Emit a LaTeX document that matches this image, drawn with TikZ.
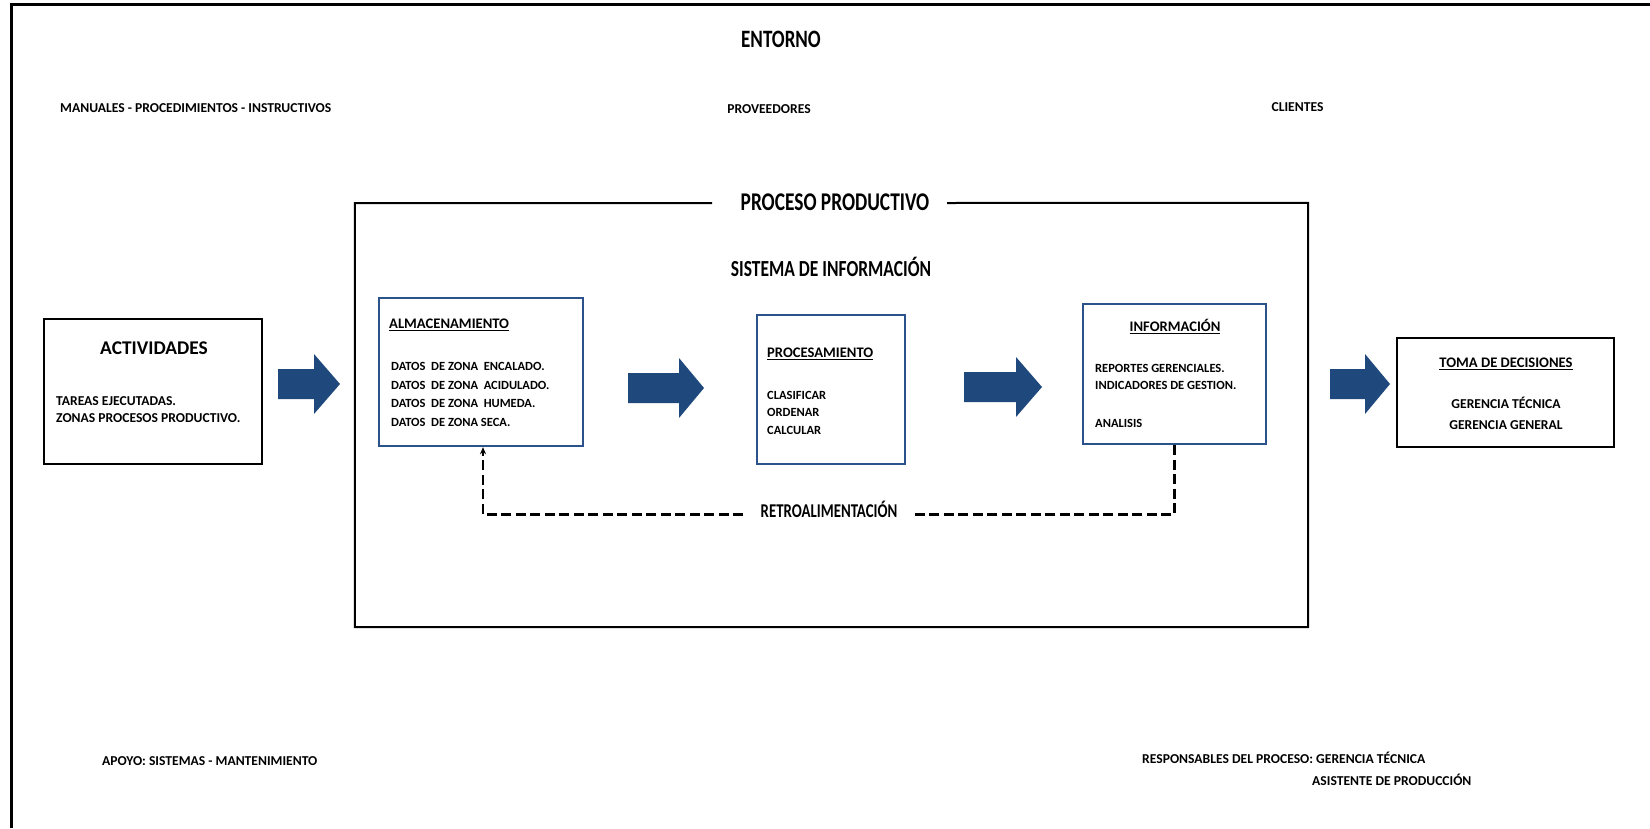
\documentclass[tikz,border=0pt]{standalone}
\usepackage{fontspec}
\setmainfont{Carlito}
\newfontfamily\condfont[FakeStretch=0.76]{Carlito}
\usetikzlibrary{arrows.meta}
\definecolor{boxblue}{RGB}{44,82,140}
\definecolor{arrowblue}{RGB}{31,73,125}

% thick block arrow: start x, head start x, tip x, centre y
\newcommand{\blockarrow}[4]{%
  \fill[arrowblue] (#1,#4-15) -- (#2,#4-15) -- (#2,#4-30) -- (#3,#4)
    -- (#2,#4+30) -- (#2,#4+15) -- (#1,#4+15) -- cycle;}

\begin{document}
\begin{tikzpicture}[x=1pt,y=-1pt,
  lbl/.style={font=\fontsize{12.5}{15}\selectfont\bfseries, inner sep=0pt, anchor=base west},
  lblc/.style={lbl, anchor=base},
  note/.style={lbl, font=\fontsize{13.6}{16}\selectfont\bfseries},
  notec/.style={note, anchor=base},
  boxtitle/.style={font=\fontsize{14.6}{17}\selectfont\bfseries, inner sep=0pt, anchor=base west},
  bigtitle/.style={font=\condfont\fontsize{25}{28}\selectfont\bfseries, inner sep=0pt},
  blackbox/.style={draw=black, line width=2.6pt, inner sep=0pt},
  bluebox/.style={draw=boxblue, line width=2.4pt, inner sep=0pt},
  fb/.style={draw=black, line width=2.4pt, dash pattern=on 10pt off 4.5pt}
]
\useasboundingbox (0,0) rectangle (1650,828);

% environment frame (top and left edges only)
\draw[line width=3pt] (11.5,828) -- (11.5,4.5) -- (1650,4.5);

\node[bigtitle] (entorno) at (781,39) {ENTORNO};
\node[note] (manuales) at (60,112.5) {MANUALES - PROCEDIMIENTOS - INSTRUCTIVOS};
\node[notec] (proveedores) at (769,113.5) {PROVEEDORES};
\node[notec] (clientes) at (1297.5,111.5) {CLIENTES};

% production process frame, open at the top for its title
\node[minimum width=953, minimum height=424, inner sep=0pt] (proceso) at (831.5,415) {};
\draw[line width=2pt] (712,203) -| (proceso.south west) -| (proceso.north east) -- (947,203);
\node[bigtitle, font=\condfont\fontsize{25.5}{28}\selectfont\bfseries] (proctitle) at (835,202) {PROCESO PRODUCTIVO};
\node[bigtitle, font=\condfont\fontsize{23}{26}\selectfont\bfseries, anchor=base] (sistema) at (831,276.5) {SISTEMA DE INFORMACIÓN};

% activities
\node[blackbox, minimum width=218, minimum height=145] (act) at (153,391.5) {};
\node[font=\fontsize{19.4}{22}\selectfont\bfseries, inner sep=0pt, anchor=base] (acttitle) at (154,354.2) {ACTIVIDADES};
\node[note] (act1) at (56,405.5) {TAREAS EJECUTADAS.};
\node[note] (act2) at (56,422.5) {ZONAS PROCESOS PRODUCTIVO.};

% storage
\node[bluebox, minimum width=204, minimum height=148] (alm) at (481,372) {};
\node[boxtitle] (almtitle) at (389,328.7) {\underline{ALMACENAMIENTO}};
\node[lbl] (alm1) at (391,370) {DATOS\ \ DE ZONA\ \ ENCALADO.};
\node[lbl] (alm2) at (391,389) {DATOS\ \ DE ZONA\ \ ACIDULADO.};
\node[lbl] (alm3) at (391,407) {DATOS\ \ DE ZONA\ \ HUMEDA.};
\node[lbl] (alm4) at (391,426) {DATOS\ \ DE ZONA SECA.};

% processing
\node[bluebox, minimum width=148, minimum height=149] (proc) at (831,389.5) {};
\node[boxtitle] (proctitle2) at (767,357.7) {\underline{PROCESAMIENTO}};
\node[lbl] (proc1) at (767,399) {CLASIFICAR};
\node[lbl] (proc2) at (767,416.5) {ORDENAR};
\node[lbl] (proc3) at (767,434) {CALCULAR};

% information
\node[bluebox, minimum width=183, minimum height=140] (info) at (1174.5,374) {};
\node[boxtitle, anchor=base] (infotitle) at (1175,331.7) {\underline{INFORMACIÓN}};
\node[lbl] (info1) at (1095,372) {REPORTES GERENCIALES.};
\node[lbl] (info2) at (1095,389) {INDICADORES DE GESTION.};
\node[lbl] (info3) at (1095,427) {ANALISIS};

% decisions
\node[blackbox, minimum width=217, minimum height=109] (toma) at (1505.5,392.5) {};
\node[boxtitle, anchor=base] (tomatitle) at (1506,367.7) {\underline{TOMA DE DECISIONES}};
\node[notec] (toma1) at (1506,408.5) {GERENCIA TÉCNICA};
\node[notec] (toma2) at (1506,429.5) {GERENCIA GENERAL};

% flow arrows
\blockarrow{278}{314}{340}{384}
\blockarrow{628}{679}{704}{388}
\blockarrow{964}{1016}{1042}{387}
\blockarrow{1330}{1365}{1390}{384}

% feedback loop
\node[bigtitle, font=\condfont\fontsize{19.5}{22}\selectfont\bfseries, anchor=base] (retro) at (829,517.5) {RETROALIMENTACIÓN};
\coordinate (fbR) at (911,514.6);
\coordinate (fbL) at (743,514.6);
\draw[fb] (info.south) |- (fbR);
\draw[fb] (fbL) -| (483,452);
\draw[line width=1.6pt, -{Stealth[length=7pt,width=6pt]}] (483,453) -- (alm.south -| 483,0);

% bottom notes
\node[note] (apoyo) at (102,765.5) {APOYO: SISTEMAS - MANTENIMIENTO};
\node[note] (resp) at (1142,763.5) {RESPONSABLES DEL PROCESO: GERENCIA TÉCNICA};
\node[note] (asist) at (1312,785.5) {ASISTENTE DE PRODUCCIÓN};
\end{tikzpicture}
\end{document}
